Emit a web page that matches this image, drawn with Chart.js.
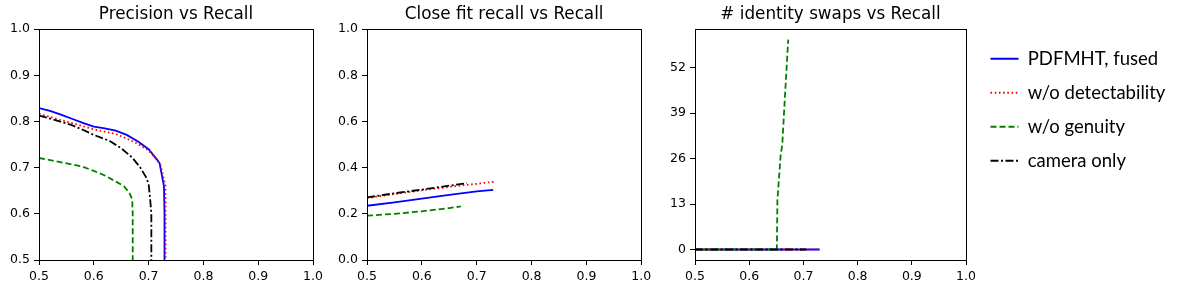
<!DOCTYPE html>
<html>
<head>
<meta charset="utf-8">
<script src="https://cdn.jsdelivr.net/npm/chart.js@4"></script>
<style>
  body { margin: 0; background: #fff; }
  #wrap { position: relative; width: 1177px; height: 293px; }
  canvas { position: absolute; }
</style>
</head>
<body>
<div id="wrap">
  <canvas id="c1" style="left:0px;top:0px" width="330" height="293"></canvas>
  <canvas id="c2" style="left:330px;top:0px" width="330" height="293"></canvas>
  <canvas id="c3" style="left:650px;top:0px" width="330" height="293"></canvas>
  <canvas id="cl" style="left:975px;top:34px" width="202" height="170"></canvas>
</div>
<script>
// series names
const seriesNames = ['PDFMHT, fused', 'w/o detectability', 'w/o genuity', 'camera only'];

// Precision vs Recall
const precBlueR = [0.500, 0.520, 0.540, 0.560, 0.580, 0.600, 0.620, 0.640, 0.660, 0.680, 0.700, 0.715, 0.720, 0.724, 0.728, 0.729, 0.729];
const precBlueP = [0.829, 0.823, 0.815, 0.806, 0.797, 0.789, 0.785, 0.780, 0.771, 0.757, 0.740, 0.718, 0.710, 0.685, 0.660, 0.600, 0.500];
const precRedR = [0.500, 0.540, 0.580, 0.600, 0.640, 0.660, 0.680, 0.700, 0.715, 0.722, 0.727, 0.731, 0.731];
const precRedP = [0.817, 0.803, 0.790, 0.783, 0.773, 0.763, 0.752, 0.737, 0.717, 0.705, 0.680, 0.660, 0.500];
const precGreenR = [0.500, 0.530, 0.560, 0.580, 0.600, 0.620, 0.640, 0.655, 0.665, 0.670, 0.671, 0.671];
const precGreenP = [0.721, 0.714, 0.707, 0.702, 0.693, 0.683, 0.670, 0.660, 0.645, 0.632, 0.600, 0.500];
const precBlackR = [0.500, 0.530, 0.560, 0.580, 0.600, 0.620, 0.630, 0.650, 0.670, 0.685, 0.695, 0.700, 0.703, 0.705, 0.705];
const precBlackP = [0.813, 0.803, 0.792, 0.782, 0.771, 0.762, 0.757, 0.742, 0.722, 0.700, 0.680, 0.665, 0.630, 0.600, 0.500];

// Close fit recall vs Recall
const fitBlueR = [0.50, 0.55, 0.60, 0.65, 0.70, 0.73];
const fitBlueV = [0.235, 0.250, 0.266, 0.282, 0.297, 0.304];
const fitRedR = [0.50, 0.55, 0.60, 0.65, 0.70, 0.731];
const fitRedV = [0.268, 0.286, 0.302, 0.317, 0.330, 0.339];
const fitGreenR = [0.50, 0.55, 0.60, 0.65, 0.671];
const fitGreenV = [0.192, 0.200, 0.211, 0.225, 0.232];
const fitBlackR = [0.50, 0.55, 0.60, 0.65, 0.682];
const fitBlackV = [0.271, 0.289, 0.305, 0.322, 0.333];

// # identity swaps vs Recall
const swapBlueR = [0.50, 0.73];
const swapBlueV = [0, 0];
const swapRedR = [0.50, 0.731];
const swapRedV = [0, 0];
const swapGreenR = [0.50, 0.651, 0.652, 0.658, 0.661, 0.666, 0.672];
const swapGreenV = [0, 0, 14, 27, 30, 44, 60];
const swapBlackR = [0.50, 0.705];
const swapBlackV = [0, 0];

const swapTicks = [0, 13, 26, 39, 52];

const styles = [
  {borderColor: '#0000ff', borderDash: [], order: 4},
  {borderColor: '#ff0000', borderDash: [1.6, 2.6], order: 3},
  {borderColor: '#008000', borderDash: [6, 3], order: 2},
  {borderColor: '#000000', borderDash: [8, 2.5, 2, 2.5], order: 1},
];

function pts(xs, ys) {
  return xs.map((x, i) => ({x: x, y: ys[i]}));
}

function makeSets(list) {
  return list.map((d, i) => ({
    label: seriesNames[i],
    data: d ? pts(d[0], d[1]) : [],
    borderColor: styles[i].borderColor,
    backgroundColor: styles[i].borderColor,
    borderDash: styles[i].borderDash,
    borderWidth: 1.8,
    pointRadius: 0,
    tension: 0,
    fill: false,
    order: styles[i].order,
  }));
}

const frame = {
  id: 'frame',
  afterDatasetsDraw(chart) {
    const a = chart.chartArea;
    const ctx = chart.ctx;
    ctx.save();
    ctx.strokeStyle = '#000';
    ctx.lineWidth = 1;
    ctx.strokeRect(Math.round(a.left) + 0.5, Math.round(a.top) + 0.5,
      Math.round(a.right - a.left), Math.round(a.bottom - a.top));
    ctx.restore();
  }
};

const tickFont = {family: 'DejaVu Sans', size: 12.5};

function axis(min, max, step, fmt, fixW, fixH) {
  return {
    type: 'linear',
    min: min,
    max: max,
    ticks: {stepSize: step, color: '#000', font: tickFont, padding: 4, maxRotation: 0, autoSkip: false,
      callback: fmt},
    grid: {drawOnChartArea: false, drawTicks: true, tickLength: 5, color: '#000'},
    border: {display: true, color: '#000'},
    afterFit: function(s) {
      if (fixW) s.width = fixW;
      if (fixH) s.height = fixH;
    },
  };
}

function panel(id, title, sets, yAxis, yW, padRight) {
  const xAxis = axis(0.5, 1.0, 0.1, v => v.toFixed(1), null, 33);
  yAxis.afterFit = function(s) { s.width = yW; };
  new Chart(document.getElementById(id), {
    type: 'line',
    data: {datasets: sets},
    options: {
      responsive: false,
      animation: false,
      layout: {padding: {left: 0, right: padRight, top: 0, bottom: 0}},
      plugins: {
        legend: {display: false},
        tooltip: {enabled: false},
        title: {
          display: true,
          text: title,
          color: '#000',
          fullSize: false,
          font: {family: 'DejaVu Sans', size: 16.8, weight: 'normal'},
          padding: {top: 5, bottom: 4},
        },
      },
      scales: {x: xAxis, y: yAxis},
    },
    plugins: [frame],
  });
}

panel('c1', 'Precision vs Recall', makeSets([
  [precBlueR, precBlueP], [precRedR, precRedP], [precGreenR, precGreenP], [precBlackR, precBlackP]
]), axis(0.5, 1.0, 0.1, v => v.toFixed(1)), 39, 17);

panel('c2', 'Close fit recall vs Recall', makeSets([
  [fitBlueR, fitBlueV], [fitRedR, fitRedV], [fitGreenR, fitGreenV], [fitBlackR, fitBlackV]
]), axis(0.0, 1.0, 0.2, v => v.toFixed(1)), 37, 18.7);

const swapAxis = axis(-3, 63, 13, v => String(v));
swapAxis.afterBuildTicks = function(s) { s.ticks = swapTicks.map(v => ({value: v})); };
panel('c3', '# identity swaps vs Recall', makeSets([
  [swapBlueR, swapBlueV], [swapRedR, swapRedV], [swapGreenR, swapGreenV], [swapBlackR, swapBlackV]
]), swapAxis, 45, 13.7);

// legend only chart
const legendSets = makeSets([null, null, null, null]);
legendSets.forEach(d => { delete d.order; });
new Chart(document.getElementById('cl'), {
  type: 'line',
  data: {datasets: legendSets},
  options: {
    responsive: false,
    animation: false,
    layout: {padding: 0},
    scales: {x: {display: false}, y: {display: false}},
    plugins: {
      tooltip: {enabled: false},
      legend: {
        display: true,
        position: 'left',
        align: 'start',
        maxWidth: 202,
        onClick: null,
        labels: {
          color: '#000',
          font: {family: 'Lato', size: 18.5},
          usePointStyle: true,
          pointStyle: 'line',
          pointStyleWidth: 28,
          padding: 15.5,
          generateLabels: function(chart) {
            const items = Chart.defaults.plugins.legend.labels.generateLabels(chart);
            items.forEach(it => {
              const ds = chart.data.datasets[it.datasetIndex];
              it.lineDash = ds.borderDash;
              it.lineWidth = ds.borderWidth;
              it.strokeStyle = ds.borderColor;
            });
            return items;
          },
        },
      },
    },
  },
});
</script>
</body>
</html>
